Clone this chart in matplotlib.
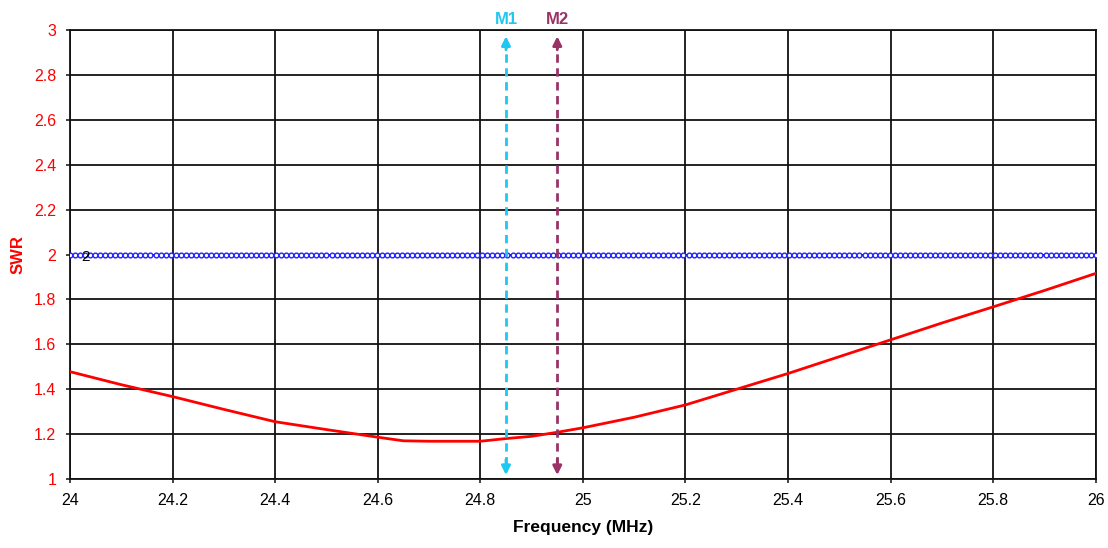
# plot.py

import numpy as np
import matplotlib as mpl
import matplotlib.pyplot as plt

mpl.use('Agg')
plt.rcParams['font.family'] = ['Liberation Sans', 'DejaVu Sans']

# measured SWR sweep
freq = [24.0, 24.1, 24.2, 24.3, 24.4, 24.5, 24.6, 24.65, 24.7, 24.8, 24.85,
        24.9, 24.95, 25.0, 25.1, 25.2, 25.3, 25.4, 25.5, 25.6, 25.7, 25.8,
        25.9, 26.0]
swr = [1.478, 1.42, 1.367, 1.31, 1.255, 1.22, 1.186, 1.17, 1.168, 1.168, 1.18,
       1.19, 1.208, 1.228, 1.275, 1.33, 1.40, 1.47, 1.545, 1.62, 1.695, 1.767,
       1.84, 1.916]

limit_swr = 2.0
markers = {'M1': 24.85, 'M2': 24.95}
marker_colors = {'M1': '#1ec8f0', 'M2': '#993366'}

xticks = [24, 24.2, 24.4, 24.6, 24.8, 25, 25.2, 25.4, 25.6, 25.8, 26]
xticklabels = ['24', '24.2', '24.4', '24.6', '24.8', '25', '25.2', '25.4', '25.6', '25.8', '26']
yticks = [1, 1.2, 1.4, 1.6, 1.8, 2, 2.2, 2.4, 2.6, 2.8, 3]
yticklabels = ['1', '1.2', '1.4', '1.6', '1.8', '2', '2.2', '2.4', '2.6', '2.8', '3']

fig = plt.figure(figsize=(11.08, 5.48), dpi=100)
ax = fig.add_axes([0.0632, 0.126, 0.9258, 0.819])

ax.set_xlim(24, 26)
ax.set_ylim(1, 3)

# limit line drawn as a row of small hollow circles
lim_x = np.linspace(24, 26, 205)
ax.plot(lim_x, [limit_swr] * len(lim_x), color='#2020ff', lw=1.0,
        marker='o', ms=3.4, mfc='white', mec='#2020ff', mew=1.0, zorder=3)
ax.text(24.03, limit_swr - 0.01, '2', fontsize=11, color='black', ha='center', va='center', zorder=4)

ax.plot(freq, swr, color='red', lw=2.0, zorder=4)

for name, f in markers.items():
    c = marker_colors[name]
    ax.plot([f, f], [1.06, 2.94], color=c, lw=2.0, ls=(0, (3, 2)), zorder=5)
    ax.annotate('', xy=(f, 2.985), xytext=(f, 2.90),
                arrowprops=dict(arrowstyle='-|>', color=c, lw=2.0, mutation_scale=13), zorder=5)
    ax.annotate('', xy=(f, 1.005), xytext=(f, 1.10),
                arrowprops=dict(arrowstyle='-|>', color=c, lw=2.0, mutation_scale=13), zorder=5)
    ax.text(f, 3.015, name, color=c, fontsize=12, fontweight='bold', ha='center', va='bottom')

ax.set_xticks(xticks)
ax.set_xticklabels(xticklabels, fontsize=11.5)
ax.set_yticks(yticks)
ax.set_yticklabels(yticklabels, fontsize=11.5, color='red')
ax.tick_params(axis='both', length=3, width=1.2, color='#222222', pad=7)
ax.grid(True, color='#111111', lw=1.3)
for s in ax.spines.values():
    s.set_color('#111111')
    s.set_linewidth(1.3)

ax.set_xlabel('Frequency (MHz)', fontsize=12.5, fontweight='bold', labelpad=9)
ax.set_ylabel('SWR', fontsize=12, fontweight='bold', color='red', labelpad=6)

fig.savefig('out.png', dpi=100)
